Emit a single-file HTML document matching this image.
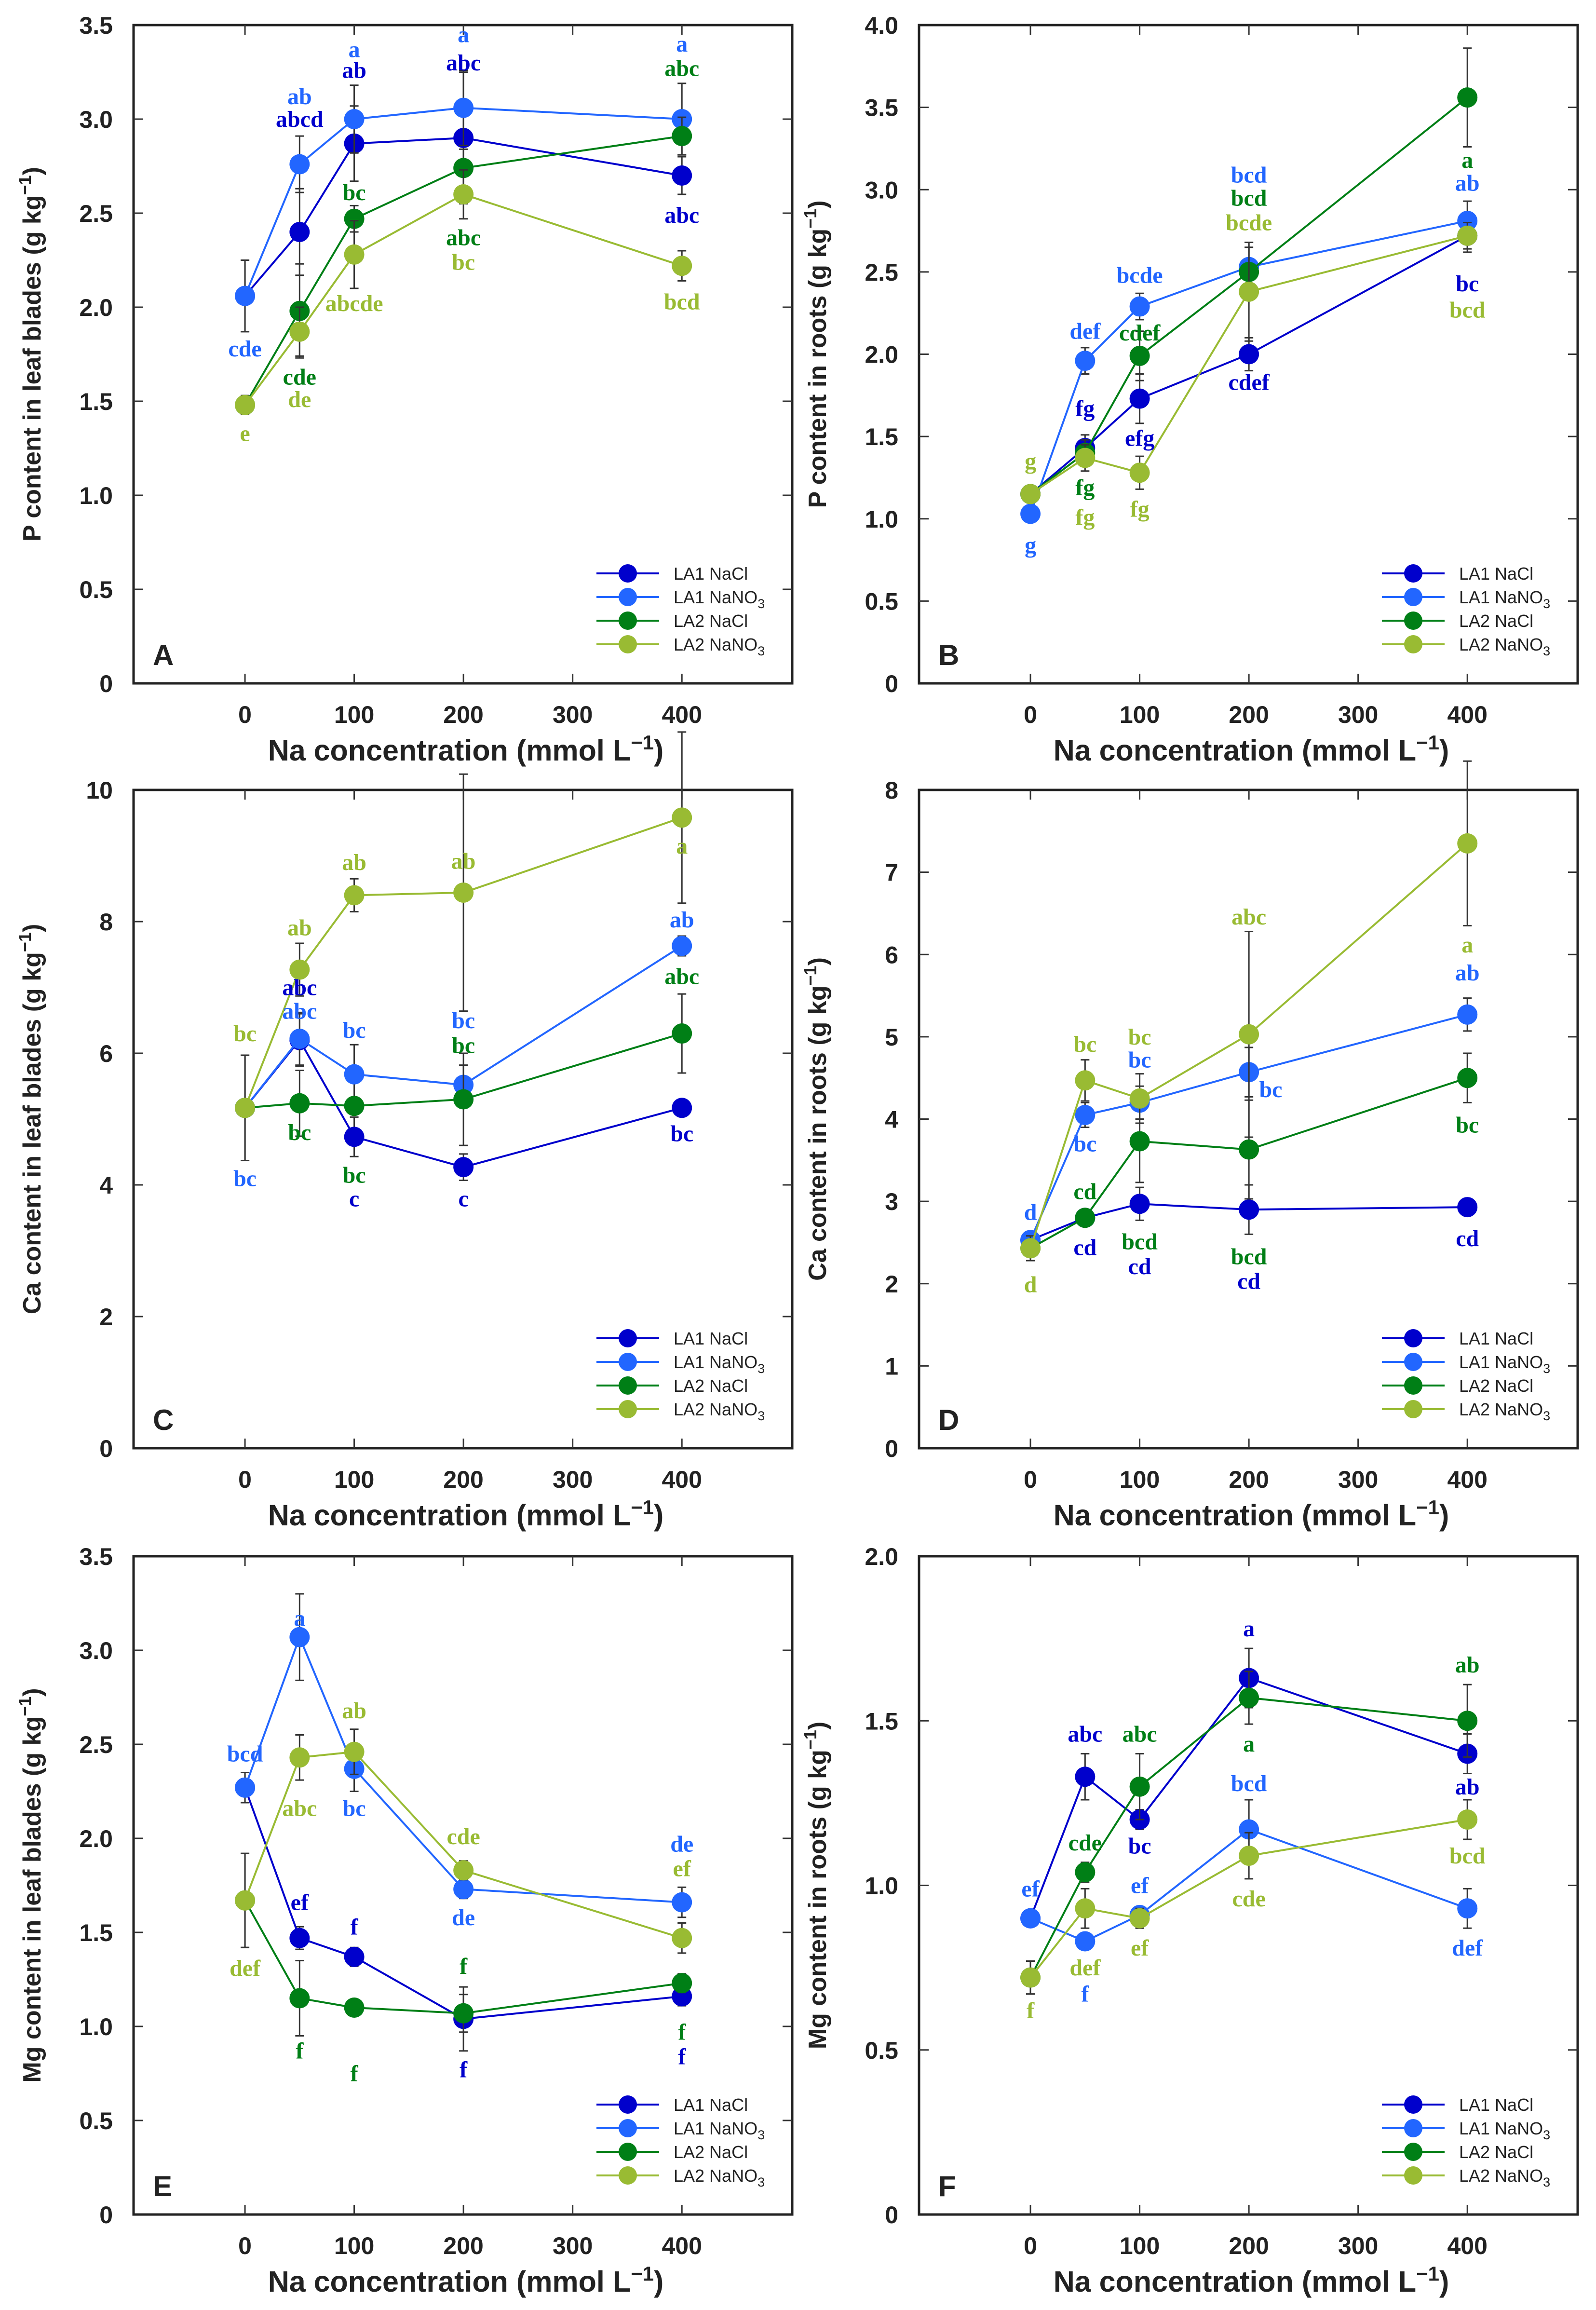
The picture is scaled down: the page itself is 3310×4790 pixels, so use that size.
<!DOCTYPE html>
<html><head><meta charset="utf-8">
<style>
html,body{margin:0;padding:0;background:#fff;}
svg{display:block;}
</style></head>
<body>
<svg id="fig" width="3310" height="4790" viewBox="0 0 3310 4790" xmlns="http://www.w3.org/2000/svg"></svg>
<script>
const xCats = [0, 50, 100, 200, 400];
const xTicks = [0, 100, 200, 300, 400];
const seriesNames = ["LA1 NaCl", "LA1 NaNO3", "LA2 NaCl", "LA2 NaNO3"];
const seriesColors = ["#0000cc", "#2266ff", "#007f16", "#99bb33"];

// Panel A: P in leaf blades
const A_la1NaCl = [2.06, 2.40, 2.87, 2.90, 2.70];
const A_la1NaNO3 = [2.06, 2.76, 3.00, 3.06, 3.00];
const A_la2NaCl = [1.48, 1.98, 2.47, 2.74, 2.91];
const A_la2NaNO3 = [1.48, 1.87, 2.28, 2.60, 2.22];
const A_err1 = [0.19, 0.23, 0.20, 0.35, 0.10];
const A_err2 = [0.19, 0.15, 0.18, 0.20, 0.19];
const A_err3 = [0.05, 0.25, 0.07, 0.10, 0.10];
const A_err4 = [0.05, 0.13, 0.18, 0.13, 0.08];
const A_ticks = ["0","0.5","1.0","1.5","2.0","2.5","3.0","3.5"];
const A_labels = [[100,3.37,"a",1],[100,3.26,"ab",0],[50,3.12,"ab",1],[50,3.0,"abcd",0],[200,3.45,"a",1],[200,3.30,"abc",0],[400,3.40,"a",1],[400,3.27,"abc",2],[100,2.61,"bc",2],[400,2.49,"abc",0],[200,2.37,"abc",2],[200,2.24,"bc",3],[100,2.02,"abcde",3],[400,2.03,"bcd",3],[0,1.78,"cde",1],[50,1.63,"cde",2],[50,1.51,"de",3],[0,1.33,"e",3]];

// Panel B: P in roots
const B_la1NaCl = [1.15, 1.43, 1.73, 2.00, 2.72];
const B_la1NaNO3 = [1.03, 1.96, 2.29, 2.53, 2.81];
const B_la2NaCl = [1.15, 1.40, 1.99, 2.50, 3.56];
const B_la2NaNO3 = [1.15, 1.37, 1.28, 2.38, 2.72];
const B_err1 = [0.05, 0.08, 0.15, 0.10, 0.10];
const B_err2 = [0.05, 0.08, 0.08, 0.15, 0.12];
const B_err3 = [0.05, 0.08, 0.15, 0.15, 0.30];
const B_err4 = [0.05, 0.08, 0.10, 0.30, 0.08];
const B_ticks = ["0","0.5","1.0","1.5","2.0","2.5","3.0","3.5","4.0"];
const B_labels = [[0,1.35,"g",3],[0,0.84,"g",1],[50,2.14,"def",1],[50,1.67,"fg",0],[50,1.19,"fg",2],[50,1.01,"fg",3],[100,2.48,"bcde",1],[100,2.13,"cdef",2],[100,1.49,"efg",0],[100,1.06,"fg",3],[200,3.09,"bcd",1],[200,2.95,"bcd",2],[200,2.80,"bcde",3],[200,1.83,"cdef",0],[400,3.18,"a",2],[400,3.04,"ab",1],[400,2.43,"bc",0],[400,2.27,"bcd",3]];

// Panel C: Ca in leaf blades
const C_la1NaCl = [5.17, 6.20, 4.73, 4.27, 5.17];
const C_la1NaNO3 = [5.17, 6.22, 5.68, 5.52, 7.63];
const C_la2NaCl = [5.17, 5.24, 5.20, 5.30, 6.30];
const C_la2NaNO3 = [5.17, 7.27, 8.40, 8.44, 9.58];
const C_err1 = [0.8, 0.4, 0.3, 0.2, 0.1];
const C_err2 = [0.8, 0.4, 0.45, 0.3, 0.15];
const C_err3 = [0.8, 0.5, 0.1, 0.7, 0.6];
const C_err4 = [0.8, 0.4, 0.25, 1.8, 1.3];
const C_ticks = ["0","2","4","6","8","10"];
const C_labels = [[0,6.3,"bc",3],[0,4.1,"bc",1],[50,7.91,"ab",3],[50,7.0,"abc",0],[50,6.64,"abc",1],[50,4.8,"bc",2],[100,8.9,"ab",3],[100,6.35,"bc",1],[100,4.15,"bc",2],[100,3.79,"c",0],[200,8.92,"ab",3],[200,6.5,"bc",1],[200,6.12,"bc",2],[200,3.79,"c",0],[400,9.15,"a",3],[400,8.03,"ab",1],[400,7.17,"abc",2],[400,4.78,"bc",0]];

// Panel D: Ca in roots
const D_la1NaCl = [2.53, 2.80, 2.97, 2.90, 2.93];
const D_la1NaNO3 = [2.53, 4.05, 4.20, 4.57, 5.27];
const D_la2NaCl = [2.43, 2.80, 3.73, 3.63, 4.50];
const D_la2NaNO3 = [2.43, 4.47, 4.25, 5.03, 7.35];
const D_err1 = [0.1, 0.1, 0.2, 0.3, 0.05];
const D_err2 = [0.1, 0.15, 0.2, 0.3, 0.2];
const D_err3 = [0.1, 0.1, 0.5, 0.6, 0.3];
const D_err4 = [0.15, 0.25, 0.3, 1.25, 1.0];
const D_ticks = ["0","1","2","3","4","5","6","7","8"];
const D_labels = [[0,2.87,"d",1],[0,1.99,"d",3],[50,4.91,"bc",3],[50,3.7,"bc",1],[50,3.12,"cd",2],[50,2.44,"cd",0],[100,5.0,"bc",3],[100,4.72,"bc",1],[100,2.51,"bcd",2],[100,2.21,"cd",0],[200,6.46,"abc",3],[220,4.36,"bc",1],[200,2.33,"bcd",2],[200,2.03,"cd",0],[400,6.12,"a",3],[400,5.78,"ab",1],[400,3.93,"bc",2],[400,2.55,"cd",0]];

// Panel E: Mg in leaf blades
const E_la1NaCl = [2.27, 1.47, 1.37, 1.04, 1.16];
const E_la1NaNO3 = [2.27, 3.07, 2.37, 1.73, 1.66];
const E_la2NaCl = [1.67, 1.15, 1.10, 1.07, 1.23];
const E_la2NaNO3 = [1.67, 2.43, 2.46, 1.83, 1.47];
const E_err1 = [0.08, 0.06, 0.05, 0.17, 0.05];
const E_err2 = [0.08, 0.23, 0.12, 0.05, 0.08];
const E_err3 = [0.25, 0.2, 0.03, 0.1, 0.05];
const E_err4 = [0.25, 0.12, 0.12, 0.05, 0.08];
const E_ticks = ["0","0.5","1.0","1.5","2.0","2.5","3.0","3.5"];
const E_labels = [[0,2.45,"bcd",1],[0,1.31,"def",3],[50,3.17,"a",1],[50,2.16,"abc",3],[50,1.66,"ef",0],[50,0.87,"f",2],[100,2.68,"ab",3],[100,2.16,"bc",1],[100,1.53,"f",0],[100,0.75,"f",2],[200,2.01,"cde",3],[200,1.58,"de",1],[200,1.32,"f",2],[200,0.77,"f",0],[400,1.97,"de",1],[400,1.84,"ef",3],[400,0.97,"f",2],[400,0.84,"f",0]];

// Panel F: Mg in roots
const F_la1NaCl = [0.90, 1.33, 1.20, 1.63, 1.40];
const F_la1NaNO3 = [0.90, 0.83, 0.91, 1.17, 0.93];
const F_la2NaCl = [0.72, 1.04, 1.30, 1.57, 1.50];
const F_la2NaNO3 = [0.72, 0.93, 0.90, 1.09, 1.20];
const F_err1 = [0.02, 0.07, 0.03, 0.09, 0.06];
const F_err2 = [0.02, 0.02, 0.02, 0.09, 0.06];
const F_err3 = [0.05, 0.03, 0.10, 0.08, 0.11];
const F_err4 = [0.05, 0.06, 0.03, 0.07, 0.06];
const F_ticks = ["0","0.5","1.0","1.5","2.0"];
const F_labels = [[0,0.99,"ef",1],[0,0.62,"f",3],[50,1.46,"abc",0],[50,1.13,"cde",2],[50,0.75,"def",3],[50,0.67,"f",1],[100,1.46,"abc",2],[100,1.0,"ef",1],[100,1.12,"bc",0],[100,0.81,"ef",3],[200,1.78,"a",0],[200,1.31,"bcd",1],[200,1.43,"a",2],[200,0.96,"cde",3],[400,1.67,"ab",2],[400,1.30,"ab",0],[400,1.09,"bcd",3],[400,0.81,"def",1]];

const NS = "http://www.w3.org/2000/svg";
const svg = document.getElementById("fig");
function mk(tag, attrs, parent) {
  const e = document.createElementNS(NS, tag);
  for (const k in attrs) e.setAttribute(k, attrs[k]);
  (parent || svg).appendChild(e);
  return e;
}

function panel(cfg) {
  const g = mk("g", {});
  
  
  const L = cfg.left, T = cfg.top, R = L + 1366, B = T + 1365;
  const xMin = -102, xMax = 501;
  const xs = v => L + (v - xMin) / (xMax - xMin) * (R - L);
  const ys = v => B - v / cfg.yMax * (B - T);
  const frame = mk("rect", {x: L, y: T, width: R - L, height: B - T, fill: "none", stroke: "#222", "stroke-width": 5}, g);
  
  
  xTicks.forEach(t => {
    const x = xs(t);
    mk("line", {x1: x, y1: B, x2: x, y2: B - 20, stroke: "#333", "stroke-width": 3}, g);
    mk("line", {x1: x, y1: T, x2: x, y2: T + 20, stroke: "#333", "stroke-width": 3}, g);
    const tl = mk("text", {x: x, y: B + 82, "text-anchor": "middle", "font-family": "Liberation Sans, sans-serif", "font-weight": "bold", "font-size": 50, fill: "#222"}, g);
    tl.textContent = String(t);
    
    
  });
  const step = cfg.yMax / (cfg.ticks.length - 1);
  cfg.ticks.forEach((lab, i) => {
    const y = ys(i * step);
    if (i > 0 && i < cfg.ticks.length - 1) {
      mk("line", {x1: L, y1: y, x2: L + 20, y2: y, stroke: "#333", "stroke-width": 3}, g);
      mk("line", {x1: R, y1: y, x2: R - 20, y2: y, stroke: "#333", "stroke-width": 3}, g);
    }
    const tl = mk("text", {x: L - 43, y: y + 18, "text-anchor": "end", "font-family": "Liberation Sans, sans-serif", "font-weight": "bold", "font-size": 50, fill: "#222"}, g);
    tl.textContent = lab;
    
    
  });
  const xt = mk("text", {x: (L + R) / 2 + 6, y: B + 160, "text-anchor": "middle", "font-family": "Liberation Sans, sans-serif", "font-weight": "bold", "font-size": 61, fill: "#222"}, g);
  xt.innerHTML = 'Na concentration (mmol L<tspan dy="-23" font-size="42">−1</tspan><tspan dy="23">)</tspan>';
  
  
  const cy = (T + B) / 2;
  const yt = mk("text", {x: 0, y: 0, transform: `translate(${L - 193},${cy}) rotate(-90)`, "text-anchor": "middle", "font-family": "Liberation Sans, sans-serif", "font-weight": "bold", "font-size": 52, fill: "#222"}, g);
  yt.innerHTML = cfg.ytitle + ' (g kg<tspan dy="-20" font-size="36">−1</tspan><tspan dy="20">)</tspan>';
  
  
  const pl = mk("text", {x: L + 40, y: B - 38, "font-family": "Liberation Sans, sans-serif", "font-weight": "bold", "font-size": 60, fill: "#222"}, g);
  pl.textContent = cfg.letter;
  
  
  cfg.series.forEach((vals, si) => {
    const col = seriesColors[si];
    const sg = mk("g", {}, g);
    
    
    const errs = cfg.errs[si];
    vals.forEach((v, i) => {
      const x = xs(xCats[i]);
      const y1 = ys(v + errs[i]), y2 = ys(v - errs[i]);
      mk("line", {x1: x, y1: y1, x2: x, y2: y2, stroke: "#333", "stroke-width": 3}, sg);
      mk("line", {x1: x - 9, y1: y1, x2: x + 9, y2: y1, stroke: "#333", "stroke-width": 3}, sg);
      mk("line", {x1: x - 9, y1: y2, x2: x + 9, y2: y2, stroke: "#333", "stroke-width": 3}, sg);
    });
    const pts = vals.map((v, i) => xs(xCats[i]) + "," + ys(v)).join(" ");
    const pl2 = mk("polyline", {points: pts, fill: "none", stroke: col, "stroke-width": 4}, sg);
    
    
    vals.forEach((v, i) => {
      const c = mk("circle", {cx: xs(xCats[i]), cy: ys(v), r: 21, fill: col}, sg);
      
      
    });
  });
  cfg.labels.forEach(lb => {
    const t = mk("text", {x: xs(lb[0]), y: ys(lb[1]) + 16, "text-anchor": "middle", "font-family": "Liberation Serif, serif", "font-weight": "bold", "font-size": 48, fill: seriesColors[lb[3]]}, g);
    t.textContent = lb[2];
    
    
  });
  const lg = mk("g", {}, g);
  
  
  seriesNames.forEach((nm, i) => {
    const y = B - 228 + i * 49;
    const e = mk("g", {}, lg);
    
    
    mk("line", {x1: R - 406, y1: y, x2: R - 276, y2: y, stroke: seriesColors[i], "stroke-width": 4}, e);
    mk("circle", {cx: R - 341, cy: y, r: 19, fill: seriesColors[i]}, e);
    const t = mk("text", {x: R - 246, y: y + 13, "font-family": "Liberation Sans, sans-serif", "font-size": 36, fill: "#222"}, e);
    if (nm.endsWith("NO3")) t.innerHTML = nm.slice(0, -1) + '<tspan dy="10" font-size="27">3</tspan>';
    else t.textContent = nm;
  });
}

const colL = [277, 1906], rowT = [52, 1638, 3227];
panel({letter: "A", left: colL[0], top: rowT[0], yMax: 3.5, ticks: A_ticks, ytitle: "P content in leaf blades",
  series: [A_la1NaCl, A_la1NaNO3, A_la2NaCl, A_la2NaNO3], errs: [A_err1, A_err2, A_err3, A_err4], labels: A_labels});
panel({letter: "B", left: colL[1], top: rowT[0], yMax: 4.0, ticks: B_ticks, ytitle: "P content in roots",
  series: [B_la1NaCl, B_la1NaNO3, B_la2NaCl, B_la2NaNO3], errs: [B_err1, B_err2, B_err3, B_err4], labels: B_labels});
panel({letter: "C", left: colL[0], top: rowT[1], yMax: 10, ticks: C_ticks, ytitle: "Ca content in leaf blades",
  series: [C_la1NaCl, C_la1NaNO3, C_la2NaCl, C_la2NaNO3], errs: [C_err1, C_err2, C_err3, C_err4], labels: C_labels});
panel({letter: "D", left: colL[1], top: rowT[1], yMax: 8, ticks: D_ticks, ytitle: "Ca content in roots",
  series: [D_la1NaCl, D_la1NaNO3, D_la2NaCl, D_la2NaNO3], errs: [D_err1, D_err2, D_err3, D_err4], labels: D_labels});
panel({letter: "E", left: colL[0], top: rowT[2], yMax: 3.5, ticks: E_ticks, ytitle: "Mg content in leaf blades",
  series: [E_la1NaCl, E_la1NaNO3, E_la2NaCl, E_la2NaNO3], errs: [E_err1, E_err2, E_err3, E_err4], labels: E_labels});
panel({letter: "F", left: colL[1], top: rowT[2], yMax: 2.0, ticks: F_ticks, ytitle: "Mg content in roots",
  series: [F_la1NaCl, F_la1NaNO3, F_la2NaCl, F_la2NaNO3], errs: [F_err1, F_err2, F_err3, F_err4], labels: F_labels});
</script>
</body></html>
